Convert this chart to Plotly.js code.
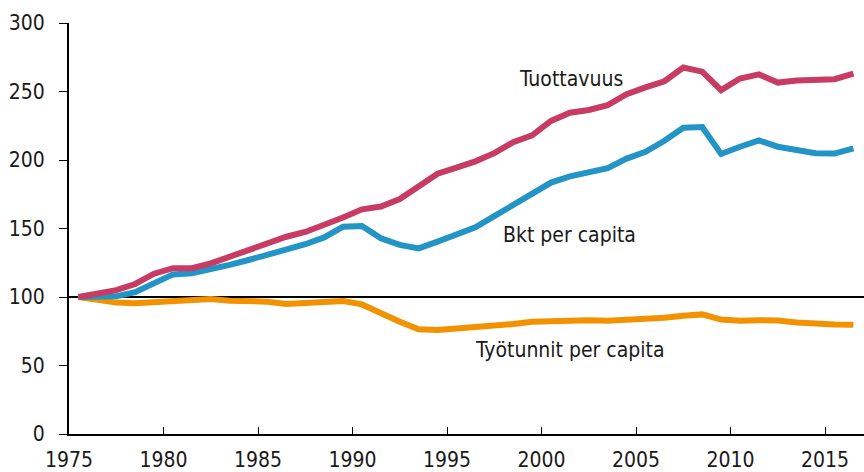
<!DOCTYPE html>
<html>
<head>
<meta charset="utf-8">
<script src="https://cdn.plot.ly/plotly-3.0.1.min.js"></script>
<style>
  body { margin: 0; background: #fff; }
  #chart { width: 864px; height: 472px; }
</style>
</head>
<body>
<div id="chart"></div>
<script>
// vuodet 1975-2016, indeksi 1975 = 100
var years = [];
for (var y = 1975; y <= 2016; y++) years.push(y);

var tuottavuus = [100, 102, 105, 109.5, 117, 121, 121, 124.5, 129.5, 134.5, 139, 144, 147.5, 152.5, 158, 164, 166, 171.5, 181, 190, 194.5, 199, 205, 213, 218, 228.5,
  234.5, 236.5, 240, 248, 253, 257.5, 267.5, 264.5, 251, 259.5, 262.5, 256.5, 258, 258, 259, 263];

var bkt = [100, 100, 100.5, 103.5, 110.5, 116.5, 117.3, 120, 123.4, 127, 130.7, 134.3, 138.5, 143.5, 151.3, 151.8, 142.8, 138, 135.5, 140.4, 146, 150.8, 159, 167, 174.5, 183.5,
  188, 190.7, 194, 201, 206, 214, 223.5, 224, 204.4, 209.7, 214.3, 209.7, 206.8, 204.9, 204.7, 208.5];

var tyotunnit = [100, 98.3, 95.9, 95.4, 96.1, 97.6, 98.6, 98.5, 97.3, 96.8, 96.6, 94.9, 95.6, 96.8, 97, 94.6, 88, 82, 76.4, 75.9, 77, 77.8, 79.6, 80.3, 82, 82.7,
  82.9, 83.1, 82.7, 83.1, 83.6, 84.8, 86.3, 87.3, 83.5, 82.7, 83.1, 82.8, 81.4, 80.4, 80, 79.8];

var tickYears = [1975, 1980, 1985, 1990, 1995, 2000, 2005, 2010, 2015];

var font = { family: "DejaVu Sans Condensed, Liberation Sans Narrow, Arial, sans-serif", size: 21, color: "#1a1a1a" };

var data = [
  { x: years, y: tyotunnit, mode: "lines", line: { color: "#f39200", width: 6 }, hoverinfo: "none" },
  { x: years, y: bkt, mode: "lines", line: { color: "#2394c6", width: 6 }, hoverinfo: "none" },
  { x: years, y: tuottavuus, mode: "lines", line: { color: "#c83c64", width: 6 }, hoverinfo: "none" }
];

var layout = {
  width: 864,
  height: 472,
  margin: { l: 69, r: 0, t: 23, b: 38 },
  paper_bgcolor: "#fff",
  plot_bgcolor: "#fff",
  showlegend: false,
  font: font,
  xaxis: {
    range: [1974.5, 2016.56],
    tickmode: "array",
    tickvals: tickYears.map(function (t) { return t - 0.5; }),
    ticktext: tickYears.map(String),
    ticklabelshift: 9.5,
    ticklabelstandoff: 6,
    ticks: "inside",
    ticklen: 7,
    tickwidth: 1,
    tickcolor: "#000",
    showgrid: false,
    zeroline: false,
    showline: true,
    linecolor: "#000",
    linewidth: 2,
    tickfont: font
  },
  yaxis: {
    range: [0, 300],
    tickmode: "array",
    tickvals: [0, 50, 100, 150, 200, 250, 300],
    ticks: "outside",
    ticklen: 8,
    tickwidth: 1,
    tickcolor: "#000",
    ticklabelstandoff: 10,
    showgrid: false,
    zeroline: false,
    showline: true,
    linecolor: "#000",
    linewidth: 2,
    tickfont: font
  },
  shapes: [
    { type: "line", xref: "paper", x0: 0, x1: 1, yref: "y", y0: 100, y1: 100, line: { color: "#000", width: 2 }, layer: "below" }
  ],
  annotations: [
    { x: 2001.06, y: 259, text: "Tuottavuus", showarrow: false, font: font },
    { x: 2001.0, y: 145.3, text: "Bkt per capita", showarrow: false, font: font },
    { x: 2001.0, y: 61.3, text: "Työtunnit per capita", showarrow: false, font: font }
  ]
};

Plotly.newPlot("chart", data, layout, { displayModeBar: false, staticPlot: true });
</script>
</body>
</html>
